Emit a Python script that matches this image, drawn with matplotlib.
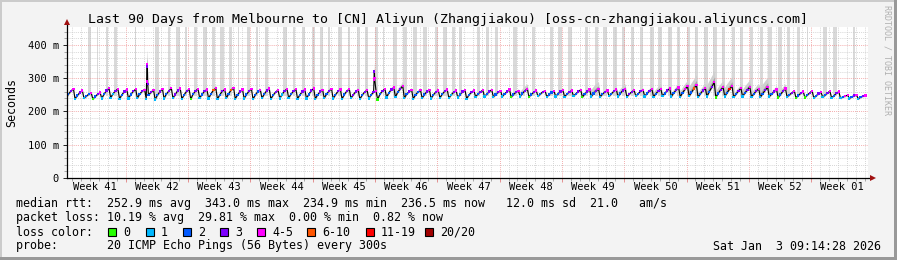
import numpy as np
import matplotlib
matplotlib.use("Agg")
import matplotlib.pyplot as plt
from matplotlib.patches import Rectangle
from matplotlib.ticker import FixedLocator, MultipleLocator
from matplotlib.transforms import blended_transform_factory

W, H = 897, 260
MONO = 'DejaVu Sans Mono'

#~~~~~~~~~~~~~~~~~~~~~~~~~ data ~~~~~~~~~~~~~~~~~~~~~~~~~
# one row per day of the daily sawtooth: low, rising, high, peak (ms)
rtt_days = [
    (241, 252, 262, 268), (238, 248, 257, 263), (240, 246, 252, 256), (237, 245, 252, 257),
    (239, 252, 263, 270), (241, 253, 262, 268), (238, 250, 260, 266), (239, 251, 261, 267),
    (240, 252, 261, 265), (238, 250, 258, 265), (236, 249, 260, 268), (239, 252, 262, 270),
    (240, 251, 263, 269), (238, 250, 261, 267), (237, 252, 262, 268), (240, 251, 261, 266),
    (239, 252, 264, 270), (237, 250, 261, 266), (240, 253, 265, 271), (238, 250, 260, 266),
    (239, 251, 261, 268), (237, 250, 260, 265), (240, 252, 263, 269), (238, 249, 259, 264),
    (239, 251, 262, 268), (240, 252, 261, 267), (238, 250, 260, 266), (239, 251, 263, 269),
    (238, 250, 260, 265), (240, 252, 262, 268), (239, 250, 261, 266), (238, 251, 262, 267),
    (240, 250, 260, 265), (237, 249, 259, 264), (239, 250, 258, 262), (236, 252, 262, 268),
    (242, 256, 266, 272), (243, 258, 268, 277), (240, 252, 260, 265), (238, 250, 259, 264),
    (240, 251, 260, 265), (239, 250, 259, 263), (241, 252, 261, 266), (240, 250, 258, 263),
    (242, 251, 260, 264), (238, 250, 258, 263), (244, 252, 259, 264), (245, 252, 260, 265),
    (244, 251, 258, 262), (245, 253, 260, 266), (243, 251, 258, 262), (245, 254, 262, 268),
    (244, 251, 258, 263), (246, 252, 259, 262), (244, 251, 257, 261), (245, 253, 260, 264),
    (244, 252, 259, 263), (246, 253, 260, 265), (243, 252, 260, 266), (245, 254, 262, 267),
    (244, 252, 259, 263), (246, 253, 261, 266), (245, 254, 263, 268), (244, 252, 259, 264),
    (246, 253, 261, 265), (245, 254, 262, 267), (244, 253, 262, 268), (246, 254, 263, 269),
    (245, 255, 265, 272), (244, 256, 267, 276), (246, 257, 269, 280), (243, 253, 263, 270),
    (245, 259, 273, 288), (242, 254, 265, 273), (245, 256, 267, 277), (243, 252, 262, 270),
    (245, 255, 265, 274), (244, 252, 262, 268), (243, 253, 264, 273), (245, 252, 260, 266),
    (242, 251, 261, 269), (244, 250, 256, 262), (241, 248, 255, 260), (242, 249, 256, 262),
    (241, 247, 254, 258), (243, 249, 256, 261), (241, 247, 255, 260), (240, 244, 247, 249),
    (239, 244, 248, 249), (238, 243, 247, 248),
]
# loss code per sample (0,1,2,3 pings; 4 = 4-5, 6 = 6-10, 9 = 11-19)
loss_days = [
    "1234", "1234", "1224", "0234", "1234", "1134", "1234", "1234", "1234", "1234",
    "1234", "1234", "1334", "1234", "0234", "1234", "1264", "1234", "1264", "1234",
    "1234", "1224", "1234", "1234", "1134", "1234", "1234", "1234", "1234", "1234",
    "1234", "1234", "1334", "1234", "1234", "0234", "1234", "1234", "1234", "1224",
    "1234", "1234", "1234", "1134", "1234", "1234", "1234", "1234", "1234", "1234",
    "0234", "1234", "0234", "1234", "1224", "1234", "1234", "1234", "0234", "1234",
    "1234", "1234", "1234", "1334", "1234", "1234", "1234", "1234", "1234", "1244",
    "1264", "1234", "1234", "0234", "1294", "1234", "1234", "1234", "1234", "1234",
    "0234", "1234", "0234", "0234", "1234", "1234", "1234", "1244", "1234", "1234",
]
# spread of the smoke above the median, per day (ms)
smoke_days = [
    5, 5, 4, 4, 6, 5, 5, 5, 6, 5, 5, 6, 5, 5, 5, 6, 8, 5, 8, 5,
    5, 5, 8, 5, 5, 5, 6, 5, 5, 5, 5, 5, 6, 5, 5, 5, 8, 12, 5, 5,
    5, 5, 5, 5, 5, 5, 5, 5, 5, 5, 6, 15, 5, 5, 5, 6, 5, 5, 8, 22,
    5, 6, 15, 5, 6, 8, 15, 8, 12, 18, 30, 14, 35, 20, 28, 12, 22, 15,
    30, 10, 14, 5, 5, 5, 4, 5, 4, 3, 3, 3,
]
# the two short latency spikes
spike_t = [8.95, 8.99, 9.03, 9.07, 34.50, 34.53, 34.56]
spike_ms = [290, 343, 335, 282, 295, 320, 300]
spike_loss = "4433434"
spike_smoke = [30, 42, 35, 20, 18, 28, 15]

# light grey columns where the smoke runs off the top (start, end in days)
smoke_bars = [
    (2.35, 2.70), (3.35, 3.47), (4.38, 4.60), (5.28, 5.62), (7.62, 7.74), (9.89, 10.34),
    (11.35, 11.57), (12.25, 12.70), (13.26, 13.48), (14.27, 14.61), (15.28, 15.73),
    (16.29, 16.63), (17.19, 17.64), (18.20, 18.54), (19.19, 19.31), (20.22, 20.56),
    (21.24, 21.46), (22.25, 22.58), (24.27, 24.72), (25.39, 25.62), (26.40, 26.74),
    (27.53, 27.87), (28.43, 28.76), (29.33, 29.55), (30.45, 30.90), (31.57, 31.80),
    (32.58, 32.92), (33.48, 33.82), (34.61, 34.94), (35.49, 35.61), (36.63, 37.08),
    (37.75, 38.20), (38.88, 39.33), (40.00, 40.45), (41.35, 41.69), (42.25, 42.70),
    (43.26, 43.60), (44.04, 44.38), (46.07, 46.40), (47.08, 47.42), (48.09, 48.43),
    (50.11, 50.56), (51.24, 51.46), (52.25, 52.58), (54.27, 54.61), (55.17, 55.62),
    (56.29, 56.74), (58.20, 58.54), (59.33, 59.66), (60.22, 60.67), (61.35, 61.80),
    (62.36, 62.70), (63.37, 63.71), (64.38, 64.72), (65.51, 65.96), (66.40, 66.85),
    (67.53, 67.98), (68.54, 68.88), (69.66, 70.00), (70.56, 70.90), (71.57, 72.02),
    (72.58, 73.03), (73.60, 73.93), (74.72, 75.06), (75.62, 75.96), (76.74, 77.08),
    (77.87, 78.20), (78.76, 79.21), (79.89, 80.34), (80.90, 81.24), (82.02, 82.36),
    (83.15, 83.27), (84.94, 85.39), (86.07, 86.52), (88.31, 88.54),
]

week_names = ['Week 41', 'Week 42', 'Week 43', 'Week 44', 'Week 45', 'Week 46', 'Week 47',
              'Week 48', 'Week 49', 'Week 50', 'Week 51', 'Week 52', 'Week 01']
loss_labels = ['0', '1', '2', '3', '4-5', '6-10', '11-19', '20/20']
loss_colors = ['#26ff00', '#00b8ff', '#0059ff', '#7e00ff', '#ff00ff', '#ff5500', '#ff0000', '#a00000']
code_index = {'0': 0, '1': 1, '2': 2, '3': 3, '4': 4, '6': 5, '9': 6, 'x': 7}

#~~~~~~~~~~~~~~~~~~~~~~~~~ build the series ~~~~~~~~~~~~~~~~~~~~~~~~~
offs = [-0.1, 0.15, 0.45, 0.72]   # where in each day the four samples sit
t, med, lcode, spread = [], [], [], []
for k, row in enumerate(rtt_days):
    for j, o in enumerate(offs):
        t.append(k + o)
        med.append(row[j])
        lcode.append(loss_days[k][j])
        spread.append(smoke_days[k])
t += spike_t
med += spike_ms
lcode += list(spike_loss)
spread += spike_smoke
order = np.argsort(t, kind='stable')
t = np.array(t)[order]
med = np.array(med, dtype=float)[order]
spread = np.array(spread, dtype=float)[order]
cols = [loss_colors[code_index[lcode[i]]] for i in order]

#~~~~~~~~~~~~~~~~~~~~~~~~~ figure ~~~~~~~~~~~~~~~~~~~~~~~~~
fig = plt.figure(figsize=(W / 100, H / 100), dpi=100, facecolor='#f3f3f3')
ax = fig.add_axes([67 / W, 82 / H, 801 / W, 151 / H])
ax.set_facecolor('white')
YTOP = 454
ax.set_xlim(0, 90)
ax.set_ylim(0, YTOP)

# frame of the canvas
fig.add_artist(Rectangle((0, 1 - 2 / H), 1, 2 / H, transform=fig.transFigure, color='#cbcbcb', lw=0))
fig.add_artist(Rectangle((0, 0), 2 / W, 1, transform=fig.transFigure, color='#cbcbcb', lw=0))
fig.add_artist(Rectangle((0, 0), 1, 3 / H, transform=fig.transFigure, color='#999999', lw=0))
fig.add_artist(Rectangle((1 - 3 / W, 0), 3 / W, 1, transform=fig.transFigure, color='#999999', lw=0))

for s in ax.spines.values():
    s.set_visible(False)

week_bounds = [6.615 + 7 * k for k in range(12)]
day_marks = [0.615 + k for k in range(90)]
ax.xaxis.set_major_locator(FixedLocator(week_bounds))
ax.xaxis.set_minor_locator(FixedLocator(day_marks))
ax.set_xticklabels([])
ax.yaxis.set_major_locator(FixedLocator([0, 100, 200, 300, 400]))
ax.yaxis.set_minor_locator(MultipleLocator(20))
ax.set_yticklabels(['0', '100 m', '200 m', '300 m', '400 m'], family=MONO, fontsize=7.5)
ax.tick_params(which='major', length=3, width=0.6, pad=2.9, color='black')
ax.tick_params(which='minor', length=2, width=0.5, color='#888888')
ax.tick_params(axis='x', which='major', color='#e08080')

ax.set_axisbelow('line')
ax.grid(which='minor', color='#c8c8c8', ls=(0, (1, 1.5)), lw=0.6)
ax.grid(which='major', color='#f09090', ls=(0, (1, 1.5)), lw=0.6)

# smoke columns running off the top
bs = [b[0] for b in smoke_bars]
bw = [max(b[1] - b[0], 0.12) for b in smoke_bars]
ax.bar(bs, YTOP - 248, bottom=248, width=bw, align='edge', color='#d9d9d9', lw=0, zorder=1.2)

# smoke around the median
ax.fill_between(t, med - 3, med + spread, color='#cfcfcf', lw=0, zorder=1.6)
ax.fill_between(t, med - 1, med + spread * 0.45, color='#a5a5a5', lw=0, zorder=1.7)

# median, coloured by loss
ax.plot(t, med, color='black', lw=0.8, zorder=3)
ax.scatter(t, med, c=cols, s=2.6, marker='s', lw=0, zorder=4)

# axis lines with arrows
ax.plot([0, 1 + 4 / 801], [0, 0], transform=ax.transAxes, color='black', lw=0.9, clip_on=False, zorder=5)
ax.plot([0, 0], [0, 1 + 4 / 151], transform=ax.transAxes, color='black', lw=0.9, clip_on=False, zorder=5)
ax.plot([1 + 5 / 801], [0], marker='>', ms=5, color='#a01010', mew=0, transform=ax.transAxes, clip_on=False, zorder=6)
ax.plot([0], [1 + 5 / 151], marker='^', ms=5, color='#a01010', mew=0, transform=ax.transAxes, clip_on=False, zorder=6)

# week labels in the middle of each week
tr = blended_transform_factory(ax.transData, ax.transAxes)
for k, name in enumerate(week_names):
    ax.text(3.115 + 7 * k, -9 / 151, name, transform=tr, ha='center', va='center',
            family=MONO, fontsize=7.5)

# texts
fig.text(448 / W, 1 - 19 / H,
         'Last 90 Days from Melbourne to [CN] Aliyun (Zhangjiakou) [oss-cn-zhangjiakou.aliyuncs.com]',
         ha='center', va='center', family=MONO, fontsize=9.5)
fig.text(12 / W, 1 - 103 / H, 'Seconds', rotation=90, ha='center', va='center', family=MONO, fontsize=8.4)
fig.text(887 / W, 1 - 60 / H, 'RRDTOOL / TOBI OETIKER', rotation=270, ha='center', va='center',
         family=MONO, fontsize=6, color='#b0b0b0')

lx = 16 / W
fig.text(lx, 1 - 204 / H,
         'median rtt:  252.9 ms avg  343.0 ms max  234.9 ms min  236.5 ms now   12.0 ms sd  21.0   am/s',
         va='center', family=MONO, fontsize=8.4)
fig.text(lx, 1 - 218 / H, 'packet loss: 10.19 % avg  29.81 % max  0.00 % min  0.82 % now',
         va='center', family=MONO, fontsize=8.4)
fig.text(lx, 1 - 232 / H, 'loss color:', va='center', family=MONO, fontsize=8.4)
box_x = [108, 146, 183, 220, 257, 307, 366, 425]
for bx, lab, c in zip(box_x, loss_labels, loss_colors):
    fig.add_artist(Rectangle((bx / W, 1 - 236 / H), 8 / W, 8 / H, transform=fig.transFigure,
                             facecolor=c, edgecolor='black', lw=0.8))
    fig.text((bx + 15) / W, 1 - 232 / H, lab, va='center', family=MONO, fontsize=8.4)
fig.text(lx, 1 - 246 / H, 'probe:       20 ICMP Echo Pings (56 Bytes) every 300s',
         va='center', family=MONO, fontsize=8.4)
fig.text(881 / W, 1 - 246 / H, 'Sat Jan  3 09:14:28 2026', ha='right', va='center',
         family=MONO, fontsize=8.4)

fig.savefig('out.png', dpi=100, facecolor=fig.get_facecolor())
